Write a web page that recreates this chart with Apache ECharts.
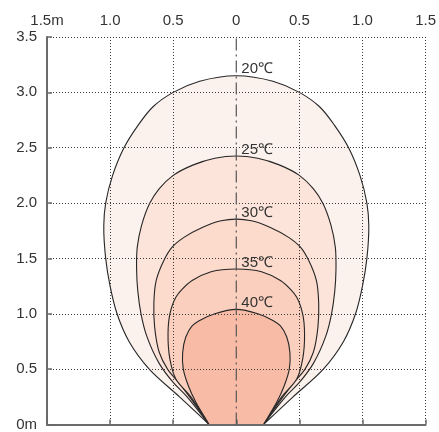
<!DOCTYPE html>
<html><head><meta charset="utf-8">
<script src="https://cdn.jsdelivr.net/npm/echarts@6/dist/echarts.min.js"></script>
<style>html,body{margin:0;padding:0;background:#fff}#c{width:439px;height:432px}</style>
</head><body><div id="c"></div>
<script>
// ---- data ----
const xTickLabels = ['1.5m','1.0','0.5','0','0.5','1.0','1.5'];
const yTickLabels = ['0m','0.5','1.0','1.5','2.0','2.5','3.0','3.5'];
const contourLabels = ['20℃','25℃','30℃','35℃','40℃'];
// right half of each contour (x = half width in m, y = distance in m), bottom to top
const half20 = [[0.215,0],[0.45,0.25],[0.69,0.5],[0.85,0.75],[0.945,1.0],[1.0,1.25],[1.035,1.5],[1.05,1.8],[1.035,2.0],[0.98,2.25],[0.89,2.5],[0.78,2.7],[0.66,2.87],[0.5,3.0],[0.29,3.1],[0,3.15]];
const half25 = [[0.215,0],[0.39,0.25],[0.5,0.38],[0.61,0.55],[0.71,0.8],[0.755,1.0],[0.78,1.2],[0.79,1.4],[0.785,1.6],[0.75,1.8],[0.685,2.0],[0.61,2.13],[0.5,2.25],[0.34,2.345],[0.17,2.405],[0,2.425]];
const half30 = [[0.215,0],[0.37,0.25],[0.45,0.37],[0.545,0.5],[0.61,0.65],[0.647,0.88],[0.653,1.1],[0.635,1.3],[0.575,1.48],[0.51,1.6],[0.415,1.69],[0.27,1.78],[0.12,1.84],[0,1.855]];
const half35 = [[0.215,0],[0.36,0.25],[0.479,0.41],[0.526,0.59],[0.541,0.82],[0.526,1.0],[0.479,1.15],[0.43,1.22],[0.35,1.3],[0.2,1.38],[0,1.405]];
const half40 = [[0.215,0],[0.32,0.2],[0.38,0.35],[0.42,0.5],[0.425,0.65],[0.4,0.79],[0.35,0.89],[0.29,0.94],[0.17,1.0],[0,1.04]];
const halves = [half20, half25, half30, half35, half40];
const centerLine = [[0,0],[0,3.5]];

// ---- style ----
const fills = ['#fcf2ed','#fde4da','#fcdacc','#fbcfbe','#f8bca6'];
const FONT = "'Liberation Sans', Arial, sans-serif";
const AXC = '#6a6a6a';
const GRIDC = '#3a3a3a';

function fullContour(half){
  const left = half.slice(0, half.length-1).map(p => [-p[0], p[1]]);
  const right = half.slice().reverse().slice(1);
  return left.concat([half[half.length-1]]).concat(right);
}
// centripetal Catmull-Rom through the points, drawn as cubic Beziers
function crPath(pts, close){
  const n = pts.length;
  const dist = (a,b) => Math.sqrt(Math.hypot(b[0]-a[0], b[1]-a[1]));
  let d = 'M' + pts[0][0].toFixed(2) + ' ' + pts[0][1].toFixed(2);
  for (let i = 0; i < n-1; i++){
    const p1 = pts[i], p2 = pts[i+1];
    const p0 = i > 0 ? pts[i-1] : null;
    const p3 = i+2 < n ? pts[i+2] : null;
    const d2 = dist(p1,p2);
    let c1, c2;
    if (p0){
      const d1 = dist(p0,p1);
      const a = d1*d1, b = d2*d2, den = 3*d1*(d1+d2);
      c1 = [ (a*p2[0] - b*p0[0] + (2*a + 3*d1*d2 + b)*p1[0]) / den,
             (a*p2[1] - b*p0[1] + (2*a + 3*d1*d2 + b)*p1[1]) / den ];
    } else {
      c1 = [p1[0] + (p2[0]-p1[0])/3, p1[1] + (p2[1]-p1[1])/3];
    }
    if (p3){
      const d3 = dist(p2,p3);
      const a = d3*d3, b = d2*d2, den = 3*d3*(d3+d2);
      c2 = [ (a*p1[0] - b*p3[0] + (2*a + 3*d3*d2 + b)*p2[0]) / den,
             (a*p1[1] - b*p3[1] + (2*a + 3*d3*d2 + b)*p2[1]) / den ];
    } else {
      c2 = [p2[0] - (p2[0]-p1[0])/3, p2[1] - (p2[1]-p1[1])/3];
    }
    d += ' C' + c1[0].toFixed(2) + ' ' + c1[1].toFixed(2) + ' ' + c2[0].toFixed(2) + ' ' + c2[1].toFixed(2) + ' ' + p2[0].toFixed(2) + ' ' + p2[1].toFixed(2);
  }
  if (close) d += ' Z';
  return d;
}

const series = halves.map((half, k) => ({
  type: 'custom',
  xAxisIndex: 0, yAxisIndex: 0,
  z: 1,
  silent: true,
  data: [[0, half[half.length-1][1]]],
  renderItem: function(params, api){
    const pts = fullContour(half).map(p => api.coord(p));
    const top = api.coord([0, half[half.length-1][1]]);
    return {
      type: 'group',
      children: [
        { type: 'path', shape: { pathData: crPath(pts, true) }, style: { fill: fills[k], stroke: null } },
        { type: 'path', shape: { pathData: crPath(pts, false) }, style: { fill: null, stroke: '#262626', lineWidth: 1.1 } },
        { type: 'text', x: top[0] + 5, y: top[1] + 1, style: { text: contourLabels[k], fill: '#333', font: '15px ' + FONT, align: 'left', verticalAlign: 'bottom' } }
      ]
    };
  }
}));
series.push({
  type: 'line', xAxisIndex: 0, yAxisIndex: 0, z: 6, silent: true,
  data: centerLine, symbol: 'none',
  lineStyle: { color: '#555', width: 1.2, type: [12,4,2,4] }
});

const chart = echarts.init(document.getElementById('c'), null, { renderer: 'canvas' });
chart.setOption({
  animation: false,
  backgroundColor: '#fff',
  grid: { left: 47, right: 6, top: 37, bottom: 3 },
  xAxis: [
    { type: 'value', position: 'bottom', min: -1.5, max: 1.5, interval: 0.5, z: 5,
      axisLine: { show: true, onZero: false, lineStyle: { color: AXC, width: 2 } },
      axisTick: { show: true, inside: true, length: 5, lineStyle: { color: AXC, width: 1.5 } },
      axisLabel: { show: false },
      splitLine: { show: true, lineStyle: { color: [GRIDC, GRIDC, GRIDC, 'rgba(0,0,0,0)', GRIDC, GRIDC, GRIDC], type: [1,2], width: 1 } } },
    { type: 'value', position: 'top', min: -1.5, max: 1.5, interval: 0.5, z: 5,
      axisLine: { show: false }, axisTick: { show: false }, splitLine: { show: false },
      axisLabel: { show: true, margin: 9, color: '#333', fontSize: 15, fontFamily: FONT,
        formatter: (v) => xTickLabels[Math.round((v + 1.5) / 0.5)] } }
  ],
  yAxis: [
    { type: 'value', min: 0, max: 3.5, interval: 0.5, z: 5,
      axisLine: { show: true, onZero: false, lineStyle: { color: AXC, width: 2 } },
      axisTick: { show: true, inside: true, length: 5, lineStyle: { color: AXC, width: 1.5 } },
      axisLabel: { show: true, margin: 10, color: '#333', fontSize: 15, fontFamily: FONT,
        formatter: (v) => yTickLabels[Math.round(v / 0.5)] },
      splitLine: { show: true, lineStyle: { color: GRIDC, type: [1,2], width: 1 } } }
  ],
  series: series
});
</script></body></html>
